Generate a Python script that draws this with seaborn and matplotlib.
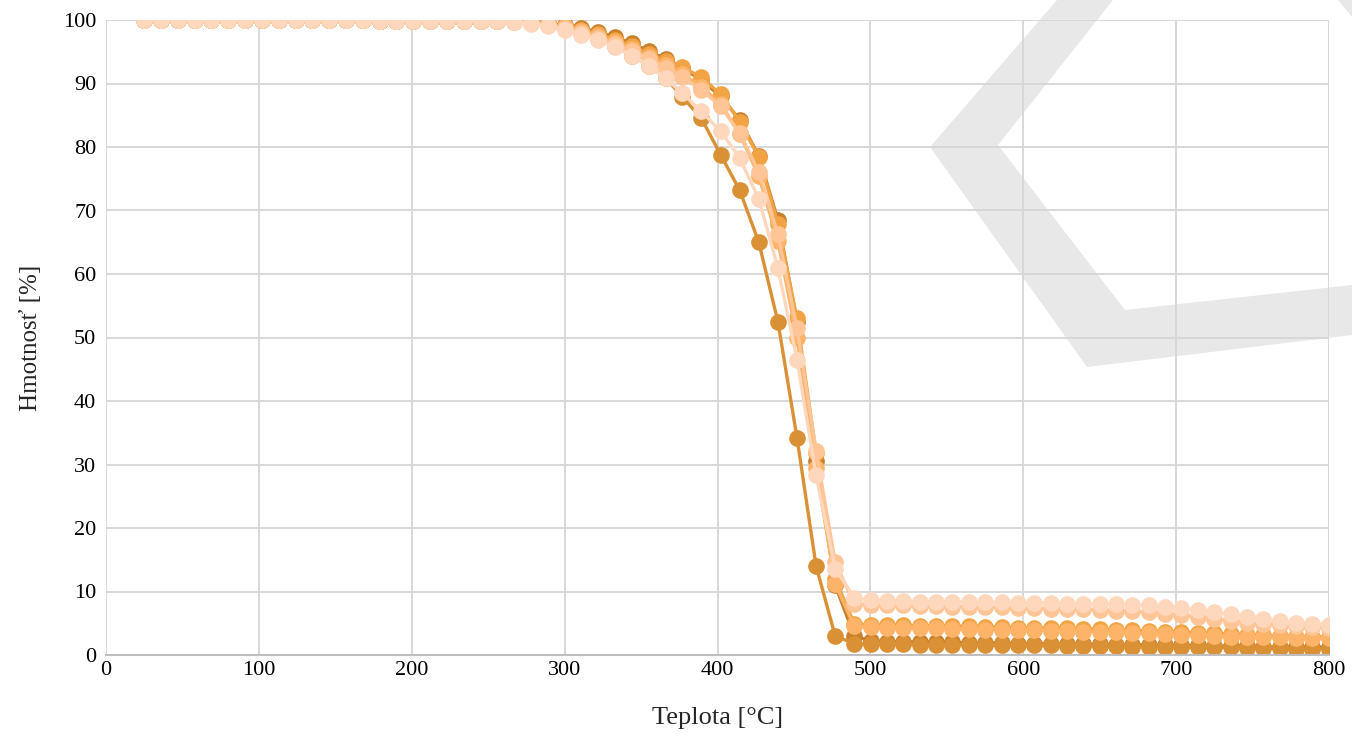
import numpy as np
import pandas as pd
import matplotlib
matplotlib.use("Agg")
import matplotlib.pyplot as plt
from matplotlib.patches import Polygon
import seaborn as sns

# ---------------- data ----------------
teplota = [25.0, 36.0, 47.0, 58.0, 69.0, 80.0, 91.0, 102.0, 113.0, 124.0,
           135.0, 146.0, 157.0, 168.0, 179.0, 190.0, 201.0, 212.0, 223.0, 234.0,
           245.0, 256.0, 267.0, 278.0, 289.0, 300.0, 311.0, 322.0, 333.0, 344.0,
           355.0, 366.0, 377.0, 389.5, 402.0, 414.5, 427.0, 439.5, 452.0, 464.5,
           477.0, 489.5, 500.2, 510.9, 521.6, 532.3, 543.0, 553.7, 564.4, 575.1,
           585.8, 596.5, 607.2, 617.9, 628.6, 639.3, 650.0, 660.7, 671.4, 682.1,
           692.8, 703.5, 714.2, 724.9, 735.6, 746.3, 757.0, 767.7, 778.4, 789.1, 800.0]

vzorka_B = [100.0, 100.0, 100.0, 100.0, 100.0, 100.0, 100.0, 100.0, 100.0, 100.0,
            100.0, 100.0, 100.0, 100.0, 99.9, 99.9, 99.9, 99.9, 99.9, 99.9, 99.9, 99.9,
            99.85, 99.7, 99.5, 99.2, 98.7, 98.1, 97.3, 96.3, 95.1, 93.9, 92.5,
            90.5, 88.0, 84.3, 78.6, 68.5, 52.5, 30.5, 11.0, 3.0,
            2.2, 2.1, 2.1, 2.0, 2.0, 2.0, 1.9, 1.9, 1.9, 1.8, 1.8, 1.8, 1.7, 1.7, 1.7,
            1.6, 1.6, 1.6, 1.5, 1.5, 1.5, 1.4, 1.4, 1.4, 1.3, 1.3, 1.3, 1.2, 1.2]

vzorka_A = [100.0, 100.0, 100.0, 100.0, 100.0, 100.0, 100.0, 100.0, 100.0, 100.0,
            100.0, 100.0, 100.0, 100.0, 99.9, 99.9, 99.9, 99.9, 99.9, 99.9, 99.9, 99.9,
            99.75, 99.55, 99.2, 98.7, 98.0, 97.0, 95.9, 94.4, 92.8, 90.9, 87.9,
            84.5, 78.8, 73.2, 65.0, 52.5, 34.2, 14.0, 3.0, 1.8,
            1.7, 1.7, 1.7, 1.6, 1.6, 1.6, 1.6, 1.5, 1.5, 1.5, 1.5, 1.5, 1.4, 1.4, 1.4,
            1.4, 1.3, 1.3, 1.3, 1.3, 1.2, 1.2, 1.2, 1.1, 1.1, 1.1, 1.0, 1.0, 1.0]

vzorka_C = [100.0, 100.0, 100.0, 100.0, 100.0, 100.0, 100.0, 100.0, 100.0, 100.0,
            100.0, 100.0, 100.0, 100.0, 99.9, 99.9, 99.9, 99.9, 99.9, 99.9, 99.9, 99.9,
            99.8, 99.6, 99.35, 99.0, 98.5, 97.8, 96.9, 95.9, 94.7, 93.5, 92.6,
            91.0, 88.3, 84.0, 78.4, 67.9, 53.0, 31.8, 12.0, 4.9,
            4.8, 4.7, 4.7, 4.6, 4.6, 4.5, 4.5, 4.4, 4.4, 4.3, 4.3, 4.2, 4.2, 4.1, 4.1,
            4.0, 3.9, 3.8, 3.7, 3.6, 3.5, 3.4, 3.3, 3.2, 3.1, 3.0, 2.9, 2.9, 2.8]

vzorka_D = [100.0, 100.0, 100.0, 100.0, 100.0, 100.0, 100.0, 100.0, 100.0, 100.0,
            100.0, 100.0, 100.0, 100.0, 99.9, 99.9, 99.9, 99.9, 99.9, 99.9, 99.9, 99.9,
            99.8, 99.55, 99.3, 98.9, 98.3, 97.5, 96.6, 95.5, 94.2, 92.9, 91.5,
            89.5, 86.8, 82.1, 75.4, 65.2, 49.9, 29.5, 11.2, 4.5,
            4.4, 4.3, 4.3, 4.2, 4.2, 4.1, 4.1, 4.0, 4.0, 3.9, 3.9, 3.8, 3.8, 3.7, 3.7,
            3.6, 3.5, 3.4, 3.3, 3.2, 3.1, 3.0, 2.9, 2.9, 2.8, 2.8, 2.7, 2.7, 2.6]

vzorka_E = [100.0, 100.0, 100.0, 100.0, 100.0, 100.0, 100.0, 100.0, 100.0, 100.0,
            100.0, 100.0, 100.0, 100.0, 99.9, 99.9, 99.9, 99.9, 99.9, 99.9, 99.9, 99.9,
            99.75, 99.5, 99.2, 98.7, 98.0, 97.2, 96.2, 95.1, 93.9, 92.5, 91.0,
            89.0, 86.4, 82.2, 76.1, 66.3, 51.5, 32.2, 14.6, 8.0,
            7.9, 7.8, 7.8, 7.7, 7.7, 7.6, 7.6, 7.5, 7.5, 7.4, 7.4, 7.3, 7.3, 7.2, 7.1,
            7.0, 6.9, 6.7, 6.5, 6.3, 6.0, 5.7, 5.4, 5.1, 4.9, 4.7, 4.5, 4.4, 4.3]

vzorka_F = [100.0, 100.0, 100.0, 100.0, 100.0, 100.0, 100.0, 100.0, 100.0, 100.0,
            100.0, 100.0, 100.0, 100.0, 99.9, 99.9, 99.9, 99.9, 99.9, 99.9, 99.9, 99.85,
            99.7, 99.4, 99.0, 98.4, 97.7, 96.8, 95.7, 94.4, 92.8, 90.8, 88.5,
            85.6, 82.5, 78.3, 71.8, 61.0, 46.5, 28.3, 13.6, 9.0,
            8.6, 8.5, 8.5, 8.4, 8.4, 8.4, 8.3, 8.3, 8.3, 8.2, 8.2, 8.2, 8.1, 8.1, 8.0,
            8.0, 7.9, 7.8, 7.6, 7.4, 7.1, 6.8, 6.4, 6.0, 5.6, 5.3, 5.1, 4.9, 4.8]

series_names = ["B", "A", "C", "D", "E", "F"]
series_values = [vzorka_B, vzorka_A, vzorka_C, vzorka_D, vzorka_E, vzorka_F]
series_colors = ["#C8802C", "#DA9136", "#F2A444", "#FDB468", "#FFC597", "#FFD7BD"]

x_ticks = [0, 100, 200, 300, 400, 500, 600, 700, 800]
y_ticks = [0, 10, 20, 30, 40, 50, 60, 70, 80, 90, 100]

# ---------------- figure ----------------
sns.set_style("white")
plt.rcParams["font.family"] = ["Liberation Serif", "DejaVu Serif"]

W, H = 1352, 736
fig = plt.figure(figsize=(W / 100, H / 100), dpi=100)

# watermark chevron (figure pixel coords, y from top)
chevron = [(1057, 0), (930, 147), (1087, 367), (1352, 335), (1352, 285),
           (1125, 310), (998, 145), (1113, 0)]
corner = [(1338, 0), (1352, 0), (1352, 17)]
for shape in (chevron, corner):
    poly = Polygon([(px / W, 1 - py / H) for px, py in shape], closed=True,
                   transform=fig.transFigure, facecolor="#E8E8E8", edgecolor="none",
                   zorder=-5)
    fig.patches.append(poly)

ax = fig.add_axes([106 / W, 1 - 655 / H, (1329 - 106) / W, (655 - 20) / H])
ax.set_facecolor("none")
ax.set_zorder(1)

frames = []
for name, vals in zip(series_names, series_values):
    frames.append(pd.DataFrame({"Teplota": teplota, "Hmotnost": vals, "Vzorka": name}))
df = pd.concat(frames, ignore_index=True)

sns.lineplot(data=df, x="Teplota", y="Hmotnost", hue="Vzorka", hue_order=series_names,
             palette=series_colors, estimator=None, sort=False, marker="o",
             markersize=12, markeredgewidth=0, linewidth=2.4, legend=False, ax=ax)

ax.set_xlim(0, 800)
ax.set_ylim(0, 100)
ax.set_xticks(x_ticks)
ax.set_yticks(y_ticks)
ax.tick_params(axis="both", length=0, labelsize=16, colors="black")
ax.tick_params(axis="x", pad=4)
ax.tick_params(axis="y", pad=7)
ax.grid(True, color="#D6D6D6", linewidth=1.3)
ax.set_axisbelow(True)
for s in ["top", "right", "left"]:
    ax.spines[s].set_visible(False)
ax.spines["bottom"].set_color("#BFBFBF")
ax.spines["bottom"].set_linewidth(1.5)

ax.set_xlabel("Teplota [°C]", fontsize=19, labelpad=20)
ax.set_ylabel("Hmotnosť [%]", fontsize=18, labelpad=15)

fig.savefig("out.png", dpi=100)
